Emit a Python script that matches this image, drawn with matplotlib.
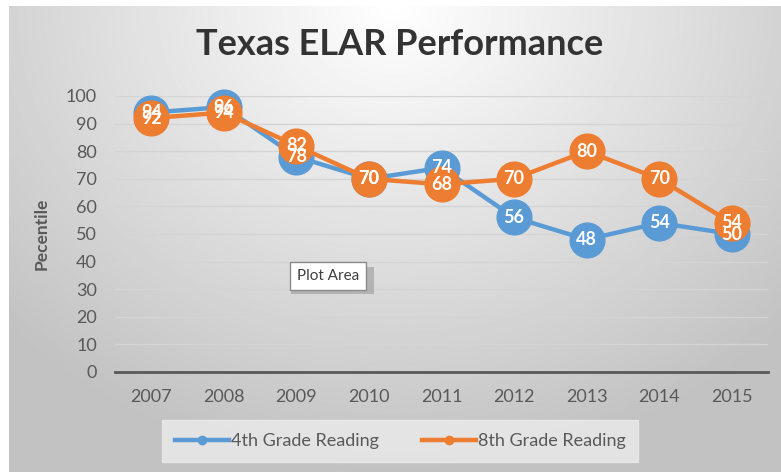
import matplotlib.pyplot as plt
import numpy as np
from matplotlib.patches import Rectangle

years = ['2007', '2008', '2009', '2010', '2011', '2012', '2013', '2014', '2015']
grade4 = [94, 96, 78, 70, 74, 56, 48, 54, 50]
grade8 = [92, 94, 82, 70, 68, 70, 80, 70, 54]

blue = '#5B9BD5'
orange = '#ED7D31'
grey_text = '#595959'

plt.rcParams['font.family'] = ['Lato', 'DejaVu Sans']

fig = plt.figure(figsize=(7.81, 4.72), dpi=100)
fig.patch.set_facecolor('white')

# gradient background of the chart area
bg = fig.add_axes([9/781, 0, 1 - 9/781, 1 - 6/472])
yy, xx = np.mgrid[0:1:300j, 0:1:500j]
d = np.sqrt(((xx - 0.5) / 0.7)**2 + ((yy - 0.0) / 1.0)**2)
shade = 1.0 - 0.24 * np.clip(d, 0, 1)
bg.imshow(shade, cmap='gray', vmin=0, vmax=1, aspect='auto', extent=[0, 1, 1, 0])
bg.set_axis_off()

ax = fig.add_axes([115/781, 100/472, 653/781, 276/472])
ax.patch.set_alpha(0)
x = np.arange(len(years))

ax.plot(x, grade4, color=blue, lw=3.2, marker='o', ms=25, clip_on=False,
        label='4th Grade Reading', zorder=3)
ax.plot(x, grade8, color=orange, lw=3.2, marker='o', ms=25, clip_on=False,
        label='8th Grade Reading', zorder=4)

for i in range(len(x)):
    ax.text(x[i], grade4[i], str(grade4[i]), color='white', fontsize=13,
            fontweight='bold', ha='center', va='center', zorder=5)
    ax.text(x[i], grade8[i], str(grade8[i]), color='white', fontsize=13,
            fontweight='bold', ha='center', va='center', zorder=6)

ax.set_xlim(-0.5, len(years) - 0.5)
ax.set_ylim(0, 100)
ax.set_yticks(range(0, 101, 10))
ax.set_xticks(x)
ax.set_xticklabels(years)
ax.grid(axis='y', color='#d4d4d4', lw=1)
ax.set_axisbelow(True)
for s in ['top', 'right', 'left']:
    ax.spines[s].set_visible(False)
ax.spines['bottom'].set_color('#595959')
ax.spines['bottom'].set_linewidth(2)
ax.tick_params(length=0, labelsize=13, labelcolor=grey_text)
ax.tick_params(axis='x', pad=12)
ax.tick_params(axis='y', pad=13)
ax.set_ylabel('Pecentile', fontsize=12.5, fontweight='bold', color=grey_text, labelpad=12)

fig.text(0.512, 0.905, 'Texas ELAR Performance', ha='center', va='center',
         fontsize=26, fontweight='bold', color='#333333')

# legend box
h1, = plt.plot([], [], color=blue, lw=3.2, marker='o', ms=6)
h2, = plt.plot([], [], color=orange, lw=3.2, marker='o', ms=6)
leg = fig.legend([h1, h2], ['4th Grade Reading', '8th Grade Reading'],
                 loc='center', bbox_to_anchor=(400/781, 1 - 441/472), ncol=2,
                 fontsize=13, frameon=True, fancybox=False, handlelength=3.0,
                 handletextpad=0.1, columnspacing=2.4, borderpad=0.7)
leg.get_frame().set_facecolor('#ececec')
leg.get_frame().set_edgecolor('#ececec')
for t in leg.get_texts():
    t.set_color(grey_text)

# tooltip with shadow
fig.patches.append(Rectangle((291/781, 1 - 294/472), 83/781, 27/472,
                             transform=fig.transFigure, facecolor='#9a9a9a',
                             edgecolor='none', alpha=0.6, zorder=1))
fig.text(328/781, 1 - 276/472, 'Plot Area', ha='center', va='center', fontsize=11,
         color='#404040', zorder=10,
         bbox=dict(boxstyle='square,pad=0.45', facecolor='white', edgecolor='#8a8a8a', lw=1))

fig.savefig('out.png', dpi=100)
